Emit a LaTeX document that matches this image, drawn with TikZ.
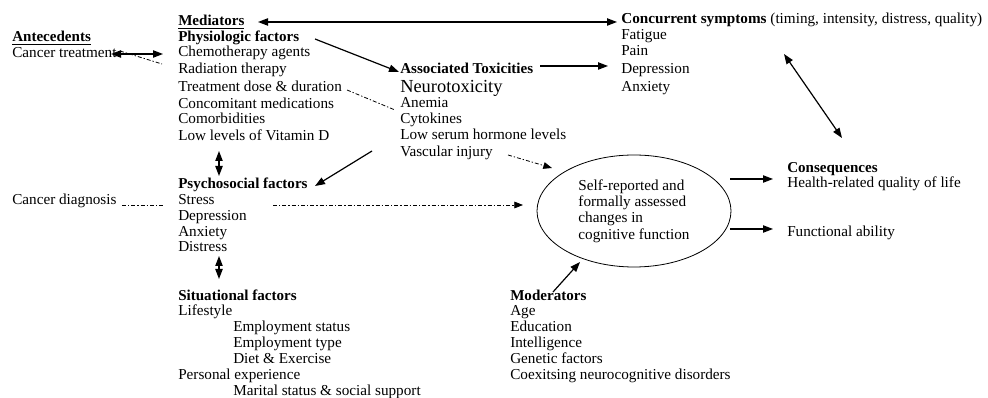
\documentclass[tikz,border=0pt]{standalone}
\usepackage{fontspec}
\setmainfont{Liberation Serif}
\usetikzlibrary{arrows.meta,shapes.geometric}
\begin{document}
\begin{tikzpicture}[x=0.75pt,y=-0.75pt,
  t/.style={anchor=base west,inner sep=0pt,font=\fontsize{11.4}{12}\selectfont},
  tb/.style={anchor=base west,inner sep=0pt,font=\fontsize{11.3}{12}\selectfont\bfseries},
  arr/.style={line width=0.9pt,-{Triangle[length=7.5pt,width=5.5pt]}},
  darr/.style={line width=0.9pt,{Triangle[length=7.5pt,width=5.5pt]}-{Triangle[length=7.5pt,width=5.5pt]}},
  dd/.style={line width=0.6pt,dash pattern=on 3pt off 1.5pt on 1pt off 1.5pt},
  ddarr/.style={dd,-{Triangle[length=6.5pt,width=5pt]}}]
\useasboundingbox[fill=white] (0,0) rectangle (988,398);

% Antecedents
\node[tb] (ant) at (12,42) {\underline{Antecedents}};
\node[t] (ctreat) at (12,58) {Cancer treatment};
\node[t] (cdiag) at (12,205) {Cancer diagnosis};

% Mediators
\node[tb] (med) at (178,26) {\underline{Mediators}};
\node[tb] (phys) at (178,42) {Physiologic factors};
\node[t] (chemo) at (178,57) {Chemotherapy agents};
\node[t] (rad) at (178,74) {Radiation therapy};
\node[t] (treat) at (178,92) {Treatment dose \& duration};
\node[t] (concm) at (178,109) {Concomitant medications};
\node[t] (comor) at (178,124) {Comorbidities};
\node[t] (vitd) at (178,141) {Low levels of Vitamin D};

\node[tb] (psy) at (178,189) {Psychosocial factors};
\node[t] (stress) at (178,205) {Stress};
\node[t] (depp) at (178,221) {Depression};
\node[t] (anxp) at (178,237) {Anxiety};
\node[t] (dist) at (178,252) {Distress};

\node[tb] (sit) at (178,301) {Situational factors};
\node[t] (life) at (178,316) {Lifestyle};
\node[t] (emps) at (233,332) {Employment status};
\node[t] (empt) at (233,348) {Employment type};
\node[t] (diet) at (233,364) {Diet \& Exercise};
\node[t] (pers) at (178,380) {Personal experience};
\node[t] (mar) at (233,396) {Marital status \& social support};

% Associated toxicities
\node[tb] (assoc) at (400,74) {Associated Toxicities};
\node[anchor=base west,inner sep=0pt,font=\fontsize{13.8}{14}\selectfont] (neuro) at (400,93) {Neurotoxicity};
\node[t] (anem) at (400,108) {Anemia};
\node[t] (cyto) at (400,124) {Cytokines};
\node[t] (lows) at (400,140) {Low serum hormone levels};
\node[t] (vasc) at (400,157) {Vascular injury};

% Concurrent symptoms
\node[t] (concs) at (621,24) {\textbf{Concurrent symptoms} (timing, intensity, distress, quality)};
\node[t] (fat) at (621,40) {Fatigue};
\node[t] (pain) at (621,56) {Pain};
\node[t] (deps) at (621,74) {Depression};
\node[t] (anxs) at (621,92) {Anxiety};

% Outcome
\node[draw,ellipse,line width=0.6pt,minimum width=145.5pt,minimum height=84pt,inner sep=0pt,
  align=left,font=\fontsize{11.4}{12.2}\selectfont] (ell) at (634,211)
  {Self-reported and\\formally assessed\\changes in\\cognitive function};

% Consequences
\node[tb] (cons) at (787,173) {Consequences};
\node[t] (hrql) at (787,188) {Health-related quality of life};
\node[t] (func) at (787,237) {Functional ability};

% Moderators
\node[tb] (mod) at (510,301) {Moderators};
\node[t] (age) at (510,316) {Age};
\node[t] (edu) at (510,332) {Education};
\node[t] (intel) at (510,348) {Intelligence};
\node[t] (gen) at (510,364) {Genetic factors};
\node[t] (coex) at (510,380) {Coexitsing neurocognitive disorders};

% connector end points
\coordinate (ctA) at (111,54);
\coordinate (ctB) at (163,54);
\coordinate (ctC) at (120,51);
\coordinate (ctD) at (162,64);
\coordinate (medA) at (258,22);
\coordinate (medB) at (617,22);
\coordinate (physA) at (315,39);
\coordinate (physB) at (399,72);
\coordinate (trA) at (347,90);
\coordinate (trB) at (395,110);
\coordinate (asA) at (540,66);
\coordinate (asB) at (608,66);
\coordinate (vsA) at (372,151);
\coordinate (vsB) at (315,186);
\coordinate (vdA) at (508,155);
\coordinate (vdB) at (552,168);
\coordinate (stA) at (273,205);
\coordinate (stB) at (523,205);
\coordinate (cdA) at (122,205);
\coordinate (cdB) at (164,205);
\coordinate (v1A) at (219,151);
\coordinate (v1B) at (219,176);
\coordinate (v2A) at (219,256);
\coordinate (v2B) at (219,279);
\coordinate (csA) at (784,54);
\coordinate (csB) at (842,138);
\coordinate (e1A) at (730,179);
\coordinate (e1B) at (773,179);
\coordinate (e2A) at (730,229);
\coordinate (e2B) at (773,229);
\coordinate (mdA) at (553,292);
\coordinate (mdB) at (580,262);

% connectors
\draw[darr] (ctA) -- (ctB);
\draw[dd] (ctC) -- (ctD);
\draw[darr] (medA) -- (medB);
\draw[arr] (physA) -- (physB);
\draw[dd] (trA) -- (trB);
\draw[arr] (asA) -- (asB);
\draw[arr] (vsA) -- (vsB);
\draw[ddarr] (vdA) -- (vdB);
\draw[ddarr] (stA) -- (stB);
\draw[dd] (cdA) -- (cdB);
\draw[darr] (v1A) -- (v1B);
\draw[darr] (v2A) -- (v2B);
\draw[darr] (csA) -- (csB);
\draw[arr] (e1A) -- (e1B);
\draw[arr] (e2A) -- (e2B);
\draw[arr] (mdA) -- (mdB);
\end{tikzpicture}
\end{document}
